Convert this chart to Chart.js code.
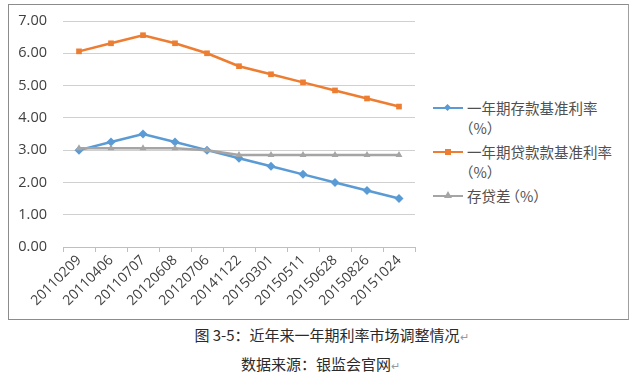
<!DOCTYPE html>
<html>
<head>
<meta charset="utf-8">
<script src="https://cdn.jsdelivr.net/npm/chart.js@4/dist/chart.umd.min.js"></script>
<style>
  body { margin: 0; background: #fff; width: 637px; height: 375px; position: relative; overflow: hidden; font-family: "Noto Sans CJK SC", "Noto Sans", sans-serif; }
  #box { position: absolute; left: 8px; top: 4px; width: 619px; height: 314px; border: 1px solid #8c8c8c; border-right-color: #a0a0a0; }
  #wrap { position: absolute; left: 0; top: 0; width: 412px; height: 314px; }
  #legend { position: absolute; left: 424px; top: 93px; font-size: 14.5px; color: #505050; line-height: 20px; }
  .item { display: flex; margin-bottom: 4px; }
  .sample { position: relative; width: 30px; height: 20px; margin-right: 4px; flex: none; }
  .sample .ln { position: absolute; left: 0; right: 0; top: 9px; height: 2px; }
  .sample .mk { position: absolute; left: 12px; top: 7px; width: 6px; height: 6px; }
  .txt { width: 160px; }
  .pct { margin-left: -8px; }
  .par { margin-left: -5px; }
  #caption { position: absolute; left: 0; width: 637px; top: 321px; text-align: center; font-size: 15px; color: #2a2a2a; line-height: 27px; }
  .pm { color: #999; font-size: 11px; }
</style>
</head>
<body>
<div id="box">
  <div id="wrap"><canvas id="chart"></canvas></div>
  <div id="legend"></div>
</div>
<div id="caption">
  <div style="padding-left:26px">图 3-5：近年来一年期利率市场调整情况<span class="pm">↵</span></div>
  <div style="padding-left:4px">数据来源：银监会官网<span class="pm">↵</span></div>
</div>
<script>
const dates = ['20110209', '20110406', '20110707', '20120608', '20120706', '20141122', '20150301', '20150511', '20150628', '20150826', '20151024'];
const depositRate = [3.00, 3.25, 3.50, 3.25, 3.00, 2.75, 2.50, 2.25, 2.00, 1.75, 1.50];
const loanRate = [6.06, 6.31, 6.56, 6.31, 6.00, 5.60, 5.35, 5.10, 4.85, 4.60, 4.35];
const spread = [3.06, 3.06, 3.06, 3.06, 3.00, 2.85, 2.85, 2.85, 2.85, 2.85, 2.85];
const seriesNames = ['一年期存款基准利率', '一年期贷款款基准利率', '存贷差'];

const colors = ['#5B9BD5', '#ED7D31', '#A5A5A5'];
const markers = ['rectRot', 'rect', 'triangle'];
const values = [depositRate, loanRate, spread];

const datasets = values.map((v, i) => ({
  label: seriesNames[i] + '（%）',
  data: v,
  borderColor: colors[i],
  backgroundColor: colors[i],
  borderWidth: 2.5,
  pointStyle: markers[i],
  pointRadius: i === 0 ? 4.5 : 4,
  pointBorderWidth: 0,
  tension: 0,
}));
// gray underneath the others
const ordered = [datasets[2], datasets[0], datasets[1]];

new Chart(document.getElementById('chart'), {
  type: 'line',
  data: { labels: dates, datasets: ordered },
  options: {
    responsive: true,
    maintainAspectRatio: false,
    animation: false,
    layout: { padding: { top: 16, right: 6, left: 0, bottom: 0 } },
    plugins: { legend: { display: false }, tooltip: { enabled: false } },
    scales: {
      x: {
        offset: true,
        grid: { offset: true, drawOnChartArea: false, drawTicks: true, tickLength: 5, color: '#bfbfbf' },
        border: { color: '#bfbfbf' },
        ticks: { minRotation: 45, maxRotation: 45, color: '#404040', font: { family: 'Open Sans', size: 14 }, padding: 0 },
        afterFit: (s) => { s.height = 72; s.paddingLeft = 0; s.paddingRight = 0; s.paddingTop = 0; s.paddingBottom = 0; },
      },
      y: {
        min: 0, max: 7,
        ticks: { stepSize: 1, color: '#404040', font: { family: 'Open Sans', size: 14.5 }, padding: 16, callback: (v) => v.toFixed(2) },
        grid: { color: '#d0d0d0', drawTicks: false, lineWidth: 1 },
        border: { display: false },
        afterFit: (s) => { s.width = 54; s.paddingTop = 0; s.paddingBottom = 0; },
      },
    },
  },
});

const legend = document.getElementById('legend');
seriesNames.forEach((name, i) => {
  const item = document.createElement('div');
  item.className = 'item';
  let mk = '';
  if (markers[i] === 'rectRot') mk = `<div class="mk" style="background:${colors[i]};transform:rotate(45deg);width:5px;height:5px;left:12px;top:7px"></div>`;
  else if (markers[i] === 'rect') mk = `<div class="mk" style="background:${colors[i]}"></div>`;
  else mk = `<div class="mk" style="width:0;height:0;background:none;border-left:4px solid transparent;border-right:4px solid transparent;border-bottom:7px solid ${colors[i]};left:11px;top:5px"></div>`;
  // long names wrap the unit onto a second line
  const text = name.length > 5
    ? `<div>${name}</div><div class="pct">（%）</div>`
    : `<div>${name}<span class="par">（%）</span></div>`;
  item.innerHTML = `<div class="sample"><div class="ln" style="background:${colors[i]}"></div>${mk}</div><div class="txt">${text}</div>`;
  legend.appendChild(item);
});
</script>
</body>
</html>
